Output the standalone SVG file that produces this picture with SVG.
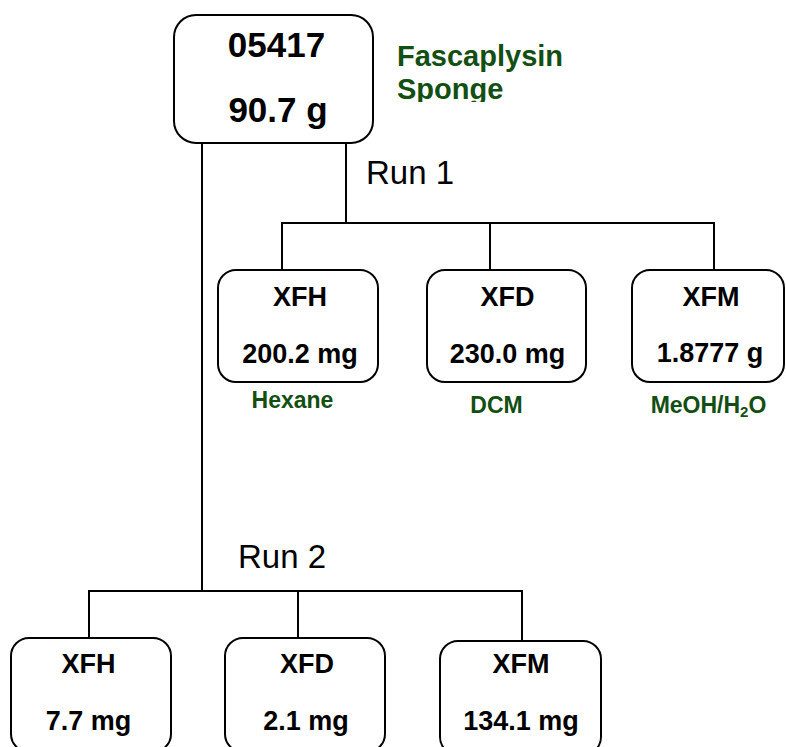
<svg xmlns="http://www.w3.org/2000/svg" width="786" height="747" viewBox="0 0 786 747">
<style>
.box{fill:#fff;stroke:#000;stroke-width:2}
.ln{stroke:#000;stroke-width:2;fill:none}
.b{font-family:"Liberation Sans",Arial,sans-serif;font-weight:bold;fill:#000;text-anchor:middle}
.g{font-family:"Liberation Sans",Arial,sans-serif;font-weight:bold;fill:#134e13}
.r{font-family:"Liberation Sans",Arial,sans-serif;fill:#000;font-size:33px}
</style>
<defs>
<clipPath id="clipS"><rect x="380" y="0" width="300" height="102"/></clipPath>
</defs>
<rect width="786" height="747" fill="#fff"/>
<g id="connectors">
<line class="ln" x1="202" y1="143" x2="202" y2="591"/>
<line class="ln" x1="346" y1="143" x2="346" y2="223"/>
<line class="ln" x1="282" y1="223" x2="714" y2="223"/>
<line class="ln" x1="282" y1="222" x2="282" y2="270"/>
<line class="ln" x1="490" y1="222" x2="490" y2="270"/>
<line class="ln" x1="714" y1="222" x2="714" y2="270"/>
<line class="ln" x1="89" y1="591" x2="522" y2="591"/>
<line class="ln" x1="89" y1="590" x2="89" y2="638"/>
<line class="ln" x1="298" y1="590" x2="298" y2="638"/>
<line class="ln" x1="522" y1="590" x2="522" y2="641"/>
</g>
<g id="root">
<rect class="box" x="174" y="15" width="199" height="128" rx="22"/>
<text class="b" x="276.5" y="57" font-size="35">05417</text>
<text class="b" x="278" y="122" font-size="35">90.7 g</text>
</g>
<g id="label-sponge" clip-path="url(#clipS)">
<text class="g" x="397" y="66" font-size="29">Fascaplysin</text>
<text class="g" x="397" y="99" font-size="29">Sponge</text>
</g>
<g id="run1"><text class="r" x="366" y="184">Run 1</text></g>
<g id="run2"><text class="r" x="238" y="568">Run 2</text></g>
<g id="r1-xfh">
<rect class="box" x="218" y="270" width="160" height="112" rx="18"/>
<text class="b" x="300" y="306" font-size="27">XFH</text>
<text class="b" x="300" y="363" font-size="27">200.2 mg</text>
<text class="g" x="292.5" y="408" font-size="23" text-anchor="middle">Hexane</text>
</g>
<g id="r1-xfd">
<rect class="box" x="427" y="270" width="159" height="112" rx="18"/>
<text class="b" x="507.5" y="306" font-size="27">XFD</text>
<text class="b" x="507.5" y="363" font-size="27">230.0 mg</text>
<text class="g" x="496.5" y="413" font-size="23" text-anchor="middle">DCM</text>
</g>
<g id="r1-xfm">
<rect class="box" x="632" y="270" width="152" height="112" rx="18"/>
<text class="b" x="711" y="306" font-size="27">XFM</text>
<text class="b" x="710" y="362" font-size="27">1.8777 g</text>
<text class="g" x="708.5" y="413" font-size="23" text-anchor="middle">MeOH/H<tspan font-size="15" dy="4">2</tspan><tspan dy="-4">O</tspan></text>
</g>
<g id="r2-xfh">
<rect class="box" x="11" y="638" width="160" height="114" rx="18"/>
<text class="b" x="88.5" y="673" font-size="27">XFH</text>
<text class="b" x="88.5" y="730" font-size="27">7.7 mg</text>
</g>
<g id="r2-xfd">
<rect class="box" x="225" y="638" width="160" height="114" rx="18"/>
<text class="b" x="307" y="673" font-size="27">XFD</text>
<text class="b" x="306" y="730" font-size="27">2.1 mg</text>
</g>
<g id="r2-xfm">
<rect class="box" x="440" y="641" width="161" height="114" rx="18"/>
<text class="b" x="521" y="673" font-size="27">XFM</text>
<text class="b" x="521" y="730" font-size="27">134.1 mg</text>
</g>
</svg>
